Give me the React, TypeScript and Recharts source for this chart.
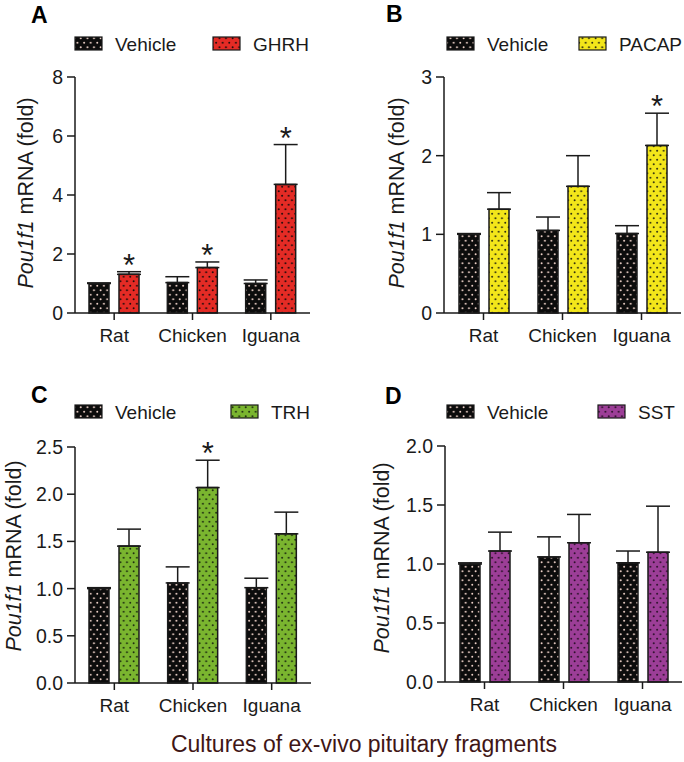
import { Bar, BarChart, ErrorBar, LabelList, XAxis, YAxis } from "recharts";

const categories = ["Rat", "Chicken", "Iguana"];

// panel A
const vehicleA = [1.0, 1.03, 1.0];
const vehicleErrA = [0.02, 0.2, 0.12];
const ghrh = [1.31, 1.54, 4.36];
const ghrhErr = [0.09, 0.19, 1.35];
const ghrhSig = ["*", "*", "*"];

// panel B
const vehicleB = [1.0, 1.05, 1.01];
const vehicleErrB = [0.01, 0.17, 0.1];
const pacap = [1.32, 1.61, 2.13];
const pacapErr = [0.21, 0.39, 0.41];
const pacapSig = ["", "", "*"];

// panel C
const vehicleC = [1.0, 1.06, 1.01];
const vehicleErrC = [0.01, 0.17, 0.1];
const trh = [1.45, 2.07, 1.58];
const trhErr = [0.18, 0.29, 0.23];
const trhSig = ["", "*", ""];

// panel D
const vehicleD = [1.0, 1.06, 1.01];
const vehicleErrD = [0.01, 0.17, 0.1];
const sst = [1.11, 1.18, 1.1];
const sstErr = [0.16, 0.24, 0.39];
const sstSig = ["", "", ""];

const ticksA = [0, 2, 4, 6, 8];
const ticksB = [0, 1, 2, 3];
const ticksC = [0, 0.5, 1, 1.5, 2, 2.5];
const ticksD = [0, 0.5, 1, 1.5, 2];

const FONT = "'Liberation Sans', Arial, sans-serif";
const INK = "#1a1a1a";

const patterns = [
  { id: "dots-vehicle", bg: "#0c0c0c", dot: "#f3d6cc" },
  { id: "dots-red", bg: "#e42b25", dot: "#1a0a0a" },
  { id: "dots-yellow", bg: "#f3e61a", dot: "#2a2a10" },
  { id: "dots-green", bg: "#7ab52f", dot: "#1c2a10" },
  { id: "dots-purple", bg: "#9c3e97", dot: "#2a0f28" },
];

function buildRows(veh: number[], vehErr: number[], tr: number[], trErr: number[]) {
  return categories.map((name, i) => ({
    name,
    vehicle: veh[i],
    vehicleErr: [0, vehErr[i]],
    treat: tr[i],
    treatErr: [0, trErr[i]],
  }));
}

function asteriskContent(vals: number[], errs: number[], sig: string[]) {
  return (props: any) => {
    const vb = props.viewBox ?? props;
    const i = props.index;
    if (i == null || !sig[i]) return null;
    const { x, y, width, height } = vb;
    const pxPerUnit = Math.abs(height) / vals[i];
    const top = Math.min(y, y + height) - errs[i] * pxPerUnit;
    return (
      <text
        x={x + width / 2}
        y={top + 4}
        textAnchor="middle"
        fontFamily={FONT}
        fontSize={31}
        fill={INK}
      >
        {sig[i]}
      </text>
    );
  };
}

interface PanelProps {
  left: number;
  top: number;
  height: number;
  marginTop: number;
  marginRight: number;
  yWidth: number;
  max: number;
  ticks: number[];
  decimals: number;
  rows: ReturnType<typeof buildRows>;
  fillId: string;
  vals: number[];
  errs: number[];
  sig: string[];
}

function Panel(p: PanelProps) {
  return (
    <div style={{ position: "absolute", left: p.left, top: p.top }}>
      <BarChart
        width={342}
        height={p.height}
        data={p.rows}
        barSize={20}
        barGap={10}
        margin={{ top: p.marginTop, right: p.marginRight, left: 0, bottom: 0 }}
      >
        <XAxis
          dataKey="name"
          height={40}
          interval={0}
          tickSize={7}
          tickMargin={9}
          axisLine={{ stroke: INK, strokeWidth: 1.5 }}
          tickLine={{ stroke: INK, strokeWidth: 1.5 }}
          tick={{ fill: INK, fontSize: 19, fontFamily: FONT }}
        />
        <YAxis
          width={p.yWidth}
          domain={[0, p.max]}
          ticks={p.ticks}
          interval={0}
          tickSize={8}
          tickMargin={4}
          tickFormatter={(v: number) => v.toFixed(p.decimals)}
          axisLine={{ stroke: INK, strokeWidth: 1.5 }}
          tickLine={{ stroke: INK, strokeWidth: 1.5 }}
          tick={{ fill: INK, fontSize: 19.5, fontFamily: FONT }}
        />
        <Bar dataKey="vehicle" fill="url(#dots-vehicle)" stroke={INK} strokeWidth={1.5} isAnimationActive={false}>
          <ErrorBar dataKey="vehicleErr" width={12} stroke={INK} strokeWidth={1.5} direction="y" />
        </Bar>
        <Bar dataKey="treat" fill={`url(#${p.fillId})`} stroke={INK} strokeWidth={1.5} isAnimationActive={false}>
          <ErrorBar dataKey="treatErr" width={12} stroke={INK} strokeWidth={1.5} direction="y" />
          <LabelList dataKey="treat" content={asteriskContent(p.vals, p.errs, p.sig)} />
        </Bar>
      </BarChart>
    </div>
  );
}

function YTitle({ x, y }: { x: number; y: number }) {
  return (
    <text
      x={x}
      y={y}
      transform={`rotate(-90 ${x} ${y})`}
      textAnchor="middle"
      fontFamily={FONT}
      fontSize={21.5}
      fill={INK}
    >
      <tspan fontStyle="italic">Pou1f1</tspan> mRNA (fold)
    </text>
  );
}

function Legend({ x1, x2, y, label, fillId }: { x1: number; x2: number; y: number; label: string; fillId: string }) {
  return (
    <g fontFamily={FONT} fontSize={19} fill={INK}>
      <rect x={x1} y={y} width={27} height={13} fill="url(#dots-vehicle)" stroke={INK} strokeWidth={1.2} />
      <text x={x1 + 40} y={y + 14}>Vehicle</text>
      <rect x={x2} y={y} width={27} height={13} fill={`url(#${fillId})`} stroke={INK} strokeWidth={1.2} />
      <text x={x2 + 40} y={y + 14}>{label}</text>
    </g>
  );
}

export default function App() {
  return (
    <div style={{ position: "absolute", left: 0, top: 0, width: 684, height: 762, background: "#fff", overflow: "hidden" }}>
      <svg width={0} height={0} style={{ position: "absolute" }}>
        <defs>
          {patterns.map((pt) => (
            <pattern key={pt.id} id={pt.id} width={6.6} height={9} patternUnits="userSpaceOnUse">
              <rect width={6.6} height={9} fill={pt.bg} />
              <circle cx={1.6} cy={2.2} r={0.95} fill={pt.dot} />
              <circle cx={4.9} cy={6.7} r={0.95} fill={pt.dot} />
            </pattern>
          ))}
        </defs>
      </svg>

      <Panel left={0} top={0} height={353} marginTop={77} marginRight={32} yWidth={75} max={8} ticks={ticksA} decimals={0}
        rows={buildRows(vehicleA, vehicleErrA, ghrh, ghrhErr)} fillId="dots-red" vals={ghrh} errs={ghrhErr} sig={ghrhSig} />
      <Panel left={342} top={0} height={353} marginTop={77} marginRight={3} yWidth={102} max={3} ticks={ticksB} decimals={0}
        rows={buildRows(vehicleB, vehicleErrB, pacap, pacapErr)} fillId="dots-yellow" vals={pacap} errs={pacapErr} sig={pacapSig} />
      <Panel left={0} top={380} height={343} marginTop={67} marginRight={31} yWidth={75} max={2.5} ticks={ticksC} decimals={1}
        rows={buildRows(vehicleC, vehicleErrC, trh, trhErr)} fillId="dots-green" vals={trh} errs={trhErr} sig={trhSig} />
      <Panel left={342} top={380} height={342} marginTop={66} marginRight={2} yWidth={103} max={2} ticks={ticksD} decimals={1}
        rows={buildRows(vehicleD, vehicleErrD, sst, sstErr)} fillId="dots-purple" vals={sst} errs={sstErr} sig={sstSig} />

      <svg width={684} height={762} style={{ position: "absolute", left: 0, top: 0, pointerEvents: "none" }}>
        <g fontFamily={FONT} fontWeight="bold" fontSize={23} fill="#000">
          <text x={31} y={23}>A</text>
          <text x={386} y={22}>B</text>
          <text x={31} y={403}>C</text>
          <text x={385} y={404}>D</text>
        </g>
        <Legend x1={75} x2={213} y={37} label="GHRH" fillId="dots-red" />
        <Legend x1={447} x2={579} y={37} label="PACAP" fillId="dots-yellow" />
        <Legend x1={75} x2={231} y={405} label="TRH" fillId="dots-green" />
        <Legend x1={447} x2={598} y={405} label="SST" fillId="dots-purple" />
        <YTitle x={33} y={193} />
        <YTitle x={404} y={193} />
        <YTitle x={21} y={556} />
        <YTitle x={389} y={558} />
        <text x={364} y={752} textAnchor="middle" fontFamily={FONT} fontSize={23} fill="#3f1616">
          Cultures of ex-vivo pituitary fragments
        </text>
      </svg>
    </div>
  );
}
